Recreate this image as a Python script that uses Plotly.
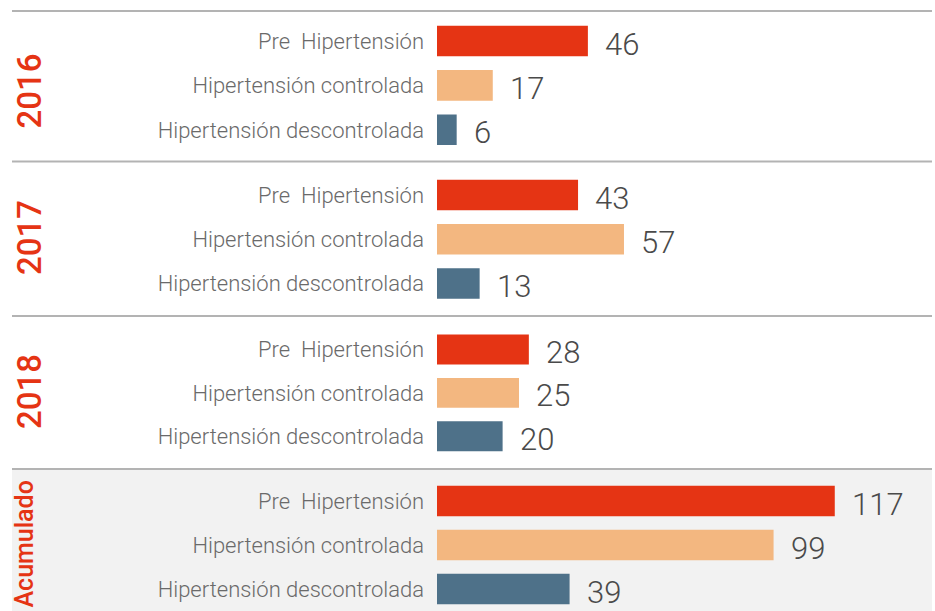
import plotly.graph_objects as go
from plotly.subplots import make_subplots

categories = ["Pre\u00a0 Hipertensión", "Hipertensión controlada", "Hipertensión descontrolada"]
sections = ["2016", "2017", "2018", "Acumulado"]
values_2016 = [46, 17, 6]
values_2017 = [43, 57, 13]
values_2018 = [28, 25, 20]
values_acum = [117, 99, 39]
all_values = [values_2016, values_2017, values_2018, values_acum]
bar_colors = ["#E53414", "#F3B780", "#4E7189"]

W, H = 935, 611
fig = make_subplots(rows=4, cols=1, shared_xaxes=False, vertical_spacing=0.02)

for i, vals in enumerate(all_values):
    fig.add_trace(go.Bar(
        x=vals, y=categories, orientation="h",
        marker=dict(color=bar_colors, line=dict(width=0)),
        hoverinfo="skip", showlegend=False,
    ), row=i + 1, col=1)
    for c, v in zip(categories, vals):
        fig.add_annotation(
            x=v, y=c, xref=f"x{i+1}" if i else "x", yref=f"y{i+1}" if i else "y",
            text=str(v), showarrow=False, xanchor="left", yanchor="middle",
            xshift=15, yshift=-3,
            font=dict(family="Roboto", size=31, color="#4a4a4a", weight=300),
        )

# pixel-based domains
X0, X1 = 437, 932
row_px = [(17.5, 152), (171.5, 305.5), (326, 458), (477.5, 611)]
ranges = [150.9, 150.9, 150.9, 145.6]
for i, (t, b) in enumerate(row_px):
    sfx = "" if i == 0 else str(i + 1)
    fig.layout["yaxis" + sfx].update(
        domain=[max(0, 1 - b / H), 1 - t / H], autorange="reversed",
        showgrid=False, zeroline=False, showline=False, ticks="",
        ticklabelstandoff=12,
        tickfont=dict(family="Roboto", size=22, color="#6a6a6a", weight=300),
    )
    fig.layout["xaxis" + sfx].update(
        domain=[X0 / W, X1 / W],
        range=[0, ranges[i]], visible=False, showgrid=False, zeroline=False,
    )

# section year labels
label_y = [91.5, 238, 392, 544.5]
label_x = [29, 29, 29, 24]
label_size = [33, 33, 33, 25]
for s, ly, lx, ls in zip(sections, label_y, label_x, label_size):
    fig.add_annotation(
        x=lx / W, y=1 - ly / H, xref="paper", yref="paper", text=s,
        showarrow=False, textangle=-90, xanchor="center", yanchor="middle",
        font=dict(family="Roboto", size=ls, color="#E53414", weight=500),
    )

shapes = [dict(type="rect", xref="paper", yref="paper", x0=12 / W, x1=932 / W,
               y0=0, y1=1 - 469 / H, fillcolor="#F2F2F2", line=dict(width=0),
               layer="below")]
for ly in [11, 161.5, 316, 469]:
    shapes.append(dict(type="line", xref="paper", yref="paper", x0=12 / W, x1=932 / W,
                       y0=1 - ly / H, y1=1 - ly / H,
                       line=dict(color="#B3B3B3", width=2)))

fig.update_layout(
    width=W, height=H, margin=dict(l=0, r=0, t=0, b=0),
    paper_bgcolor="white", plot_bgcolor="rgba(0,0,0,0)",
    bargap=0.31, shapes=shapes, hovermode=False,
)

fig.write_html("out.html", config={"displayModeBar": False},
               post_script="document.body.style.margin='0';document.body.style.padding='0';")
